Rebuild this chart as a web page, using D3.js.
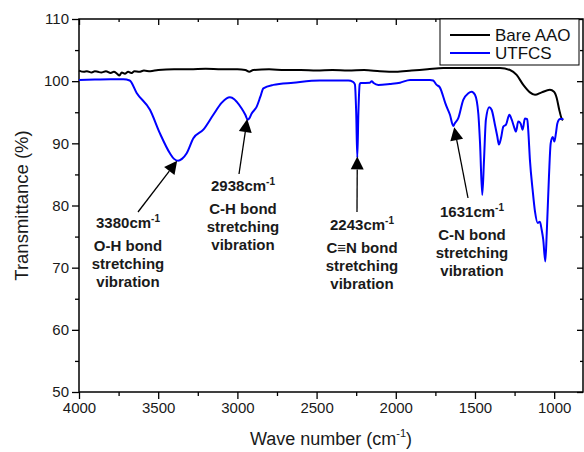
<!DOCTYPE html>
<html>
<head>
<meta charset="utf-8">
<script src="https://cdn.jsdelivr.net/npm/d3@7"></script>
<style>
  body { margin: 0; background: #fff; }
  svg, svg text { font-family: Arial, "Liberation Sans", sans-serif; }
</style>
</head>
<body>
<div id="chart"></div>
<script>
// wavenumber (cm-1) and transmittance (%)
const bareWn = [4000, 3970, 3950, 3920, 3900, 3880, 3860, 3830, 3800, 3780, 3760, 3745, 3730, 3710, 3690, 3670, 3650, 3620, 3590, 3550, 3500,
  3400, 3300, 3200, 3100, 3000, 2950, 2925, 2900, 2800, 2700, 2600, 2500, 2400, 2300, 2200, 2100, 2000, 1900, 1800, 1700,
  1600, 1500, 1400, 1342, 1279, 1237, 1195, 1153, 1121, 1079, 1027, 1001, 984, 968, 953, 945];
const bareT = [101.7, 101.5, 101.6, 101.4, 101.6, 101.5, 101.4, 101.6, 101.3, 101.5, 101.2, 100.9, 101.4, 101.2, 101.5, 101.3, 101.6, 101.5, 101.7, 101.6, 101.8,
  101.9, 101.9, 102.0, 101.9, 101.9, 101.8, 101.5, 101.8, 101.9, 101.8, 101.8, 101.7, 101.8, 101.7, 101.8, 101.6, 101.5, 101.7, 101.9, 102.1,
  102.1, 102.1, 102.1, 102.1, 101.8, 101.0, 99.4, 98.2, 97.8, 98.2, 98.6, 98.3, 97.3, 95.4, 94.0, 93.7];

const utfcsWn = [4000, 3900, 3800, 3720, 3680, 3636, 3552, 3489, 3426, 3400, 3375, 3350, 3320, 3278, 3215, 3152, 3100, 3068, 3047,
  3020, 3005, 2973, 2950, 2935, 2925, 2910, 2878, 2855, 2836, 2773, 2647, 2479, 2300, 2270, 2258, 2250, 2243, 2236, 2228, 2222,
  2163, 2152, 2140, 2110, 2037, 1973, 1910, 1784, 1764, 1742, 1722, 1689, 1679, 1658, 1637, 1628, 1606, 1574, 1542, 1521, 1500,
  1479, 1468, 1454, 1443, 1431, 1410, 1395, 1374, 1359, 1349, 1336, 1321, 1304, 1283, 1268, 1254, 1241, 1227, 1212, 1199, 1185,
  1170, 1164, 1153, 1136, 1121, 1104, 1090, 1079, 1069, 1056, 1047, 1033, 1022, 1009, 999, 989, 980, 963, 942];
const utfcsT = [100.2, 100.25, 100.3, 100.3, 100.1, 98.1, 95.4, 91.6, 88.4, 87.5, 87.2, 87.5, 88.4, 90.8, 92.2, 94.6, 96.5, 97.25, 97.4,
  97.1, 96.7, 95.6, 94.6, 93.8, 94.0, 94.8, 95.9, 97.5, 98.85, 99.4, 99.75, 100.1, 100.1, 99.9, 99.5, 95.0, 87.7, 95.0, 99.5, 99.7,
  99.75, 100.0, 99.7, 99.4, 99.55, 99.75, 100.2, 100.2, 100.1, 99.4, 99.0, 96.6, 95.9, 94.6, 92.8, 93.2, 94.0, 97.0, 98.05, 98.3, 97.8,
  94.8, 90.0, 81.7, 87.3, 93.8, 95.8, 95.4, 93.0, 91.1, 89.8, 90.8, 92.7, 93.0, 94.6, 93.8, 92.7, 91.9, 93.5, 93.2, 92.2, 94.0,
  93.9, 92.2, 87.3, 82.5, 79.0, 77.2, 77.4, 76.1, 74.5, 71.0, 75.5, 84.6, 90.0, 91.0, 90.3, 91.6, 93.2, 93.9, 93.9];

const xTicks = [4000, 3500, 3000, 2500, 2000, 1500, 1000];
const xMinor = [3750, 3250, 2750, 2250, 1750, 1250];
const yTicks = [50, 60, 70, 80, 90, 100, 110];
const yMinor = [55, 65, 75, 85, 95, 105];

const seriesNames = ['Bare AAO', 'UTFCS'];
const seriesColors = ['#000000', '#0000ff'];

// peak labels: wavenumber, transmittance at the peak, bond name
const peakWn = [3380, 2938, 2243, 1631];
const peakT = [87.2, 93.9, 87.9, 92.6];
const peakBond = ['O-H bond', 'C-H bond', 'C\u2261N bond', 'C-N bond'];

const width = 584, height = 452;
const margin = {top: 19, right: 1, bottom: 60, left: 79};

const svg = d3.select('#chart').append('svg')
  .attr('width', width).attr('height', height);

const x = d3.scaleLinear().domain([4000, 818]).range([margin.left, width - margin.right]);
const y = d3.scaleLinear().domain([50, 110]).range([height - margin.bottom, margin.top]);
const x0 = margin.left, x1 = width - margin.right, y0 = height - margin.bottom, y1 = margin.top;

// axes: labelled ticks out on bottom/left, mirrored ticks in on top/right
svg.append('g').attr('transform', `translate(0,${y0})`)
  .call(d3.axisBottom(x).tickValues(xTicks).tickSize(7).tickPadding(3).tickFormat(d3.format('d')));
svg.append('g').attr('transform', `translate(0,${y0})`)
  .call(d3.axisBottom(x).tickValues(xMinor).tickSize(4).tickFormat(''));
svg.append('g').attr('transform', `translate(${x0},0)`)
  .call(d3.axisLeft(y).tickValues(yTicks).tickSize(7).tickPadding(3));
svg.append('g').attr('transform', `translate(${x0},0)`)
  .call(d3.axisLeft(y).tickValues(yMinor).tickSize(4).tickFormat(''));
svg.append('g').attr('transform', `translate(0,${y1})`)
  .call(d3.axisBottom(x).tickValues(xTicks).tickSize(6).tickFormat(''));
svg.append('g').attr('transform', `translate(0,${y1})`)
  .call(d3.axisBottom(x).tickValues(xMinor).tickSize(3).tickFormat(''));
svg.append('g').attr('transform', `translate(${x1},0)`)
  .call(d3.axisRight(y).tickValues(yTicks).tickSize(-6).tickFormat(''));
svg.append('g').attr('transform', `translate(${x1},0)`)
  .call(d3.axisRight(y).tickValues(yMinor).tickSize(-3).tickFormat(''));
svg.selectAll('.domain').remove();
svg.selectAll('g').attr('font-family', null);
svg.selectAll('.tick line').attr('stroke', '#000').attr('stroke-width', 1.3);
svg.selectAll('.tick text').attr('font-size', 15).attr('fill', '#1a1a1a');

svg.append('rect').attr('x', x0).attr('y', y1).attr('width', x1 - x0).attr('height', y0 - y1)
  .attr('fill', 'none').attr('stroke', '#000').attr('stroke-width', 1.5);

// curves
const line = d3.line().x(d => x(d[0])).y(d => y(d[1])).curve(d3.curveMonotoneX);
const bare = bareWn.map((w, i) => [w, bareT[i]]);
const utfcs = utfcsWn.map((w, i) => [w, utfcsT[i]]);
svg.append('path').datum(bare).attr('d', line).attr('fill', 'none')
  .attr('stroke', seriesColors[0]).attr('stroke-width', 2).attr('stroke-linejoin', 'round');
svg.append('path').datum(utfcs).attr('d', line).attr('fill', 'none')
  .attr('stroke', seriesColors[1]).attr('stroke-width', 2).attr('stroke-linejoin', 'round');

// axis titles
const xt = svg.append('text').attr('x', (x0 + x1) / 2).attr('y', 445)
  .attr('text-anchor', 'middle').attr('font-size', 18).attr('fill', '#1a1a1a');
xt.append('tspan').text('Wave number (cm');
xt.append('tspan').attr('font-size', 11).attr('dy', -8).text('-1');
xt.append('tspan').attr('dy', 8).text(')');
svg.append('text').attr('transform', `translate(28,${(y0 + y1) / 2}) rotate(-90)`)
  .attr('text-anchor', 'middle').attr('font-size', 18.5).attr('fill', '#1a1a1a')
  .text('Transmittance (%)');

// legend
const lg = svg.append('g');
lg.append('rect').attr('x', 440).attr('y', 19).attr('width', 139).attr('height', 46)
  .attr('fill', '#fff').attr('stroke', '#000').attr('stroke-width', 1);
seriesNames.forEach((name, i) => {
  const ly = 35 + i * 18;
  lg.append('line').attr('x1', 450).attr('x2', 490).attr('y1', ly).attr('y2', ly)
    .attr('stroke', seriesColors[i]).attr('stroke-width', 2);
  lg.append('text').attr('x', 495).attr('y', ly + 6).attr('font-size', 17).attr('fill', '#111').text(name);
});

// peak annotations (text block centre, first baseline, arrow tail)
const annLayout = [
  {cx: 128, by: 228, tail: [138, 212]},
  {cx: 243, by: 191, tail: [239, 174]},
  {cx: 362, by: 230, tail: [357, 212]},
  {cx: 472, by: 217, tail: [468, 198]}
];
const gaps = [0, 23, 41, 59];
annLayout.forEach((a, i) => {
  const tip = [x(peakWn[i]), y(peakT[i])];
  const dx = tip[0] - a.tail[0], dy = tip[1] - a.tail[1];
  const len = Math.hypot(dx, dy), ux = dx / len, uy = dy / len;
  const hl = 13, hw = 6.5;
  const base = [tip[0] - ux * hl, tip[1] - uy * hl];
  svg.append('line').attr('x1', a.tail[0]).attr('y1', a.tail[1]).attr('x2', base[0]).attr('y2', base[1])
    .attr('stroke', '#000').attr('stroke-width', 1.3);
  svg.append('path').attr('fill', '#000')
    .attr('d', `M${tip[0]},${tip[1]}L${base[0] - uy * hw},${base[1] + ux * hw}L${base[0] + uy * hw},${base[1] - ux * hw}Z`);
  const lines = [null, peakBond[i], 'stretching', 'vibration'];
  lines.forEach((t, j) => {
    const tx = svg.append('text').attr('x', a.cx).attr('y', a.by + gaps[j])
      .attr('text-anchor', 'middle').attr('font-size', 15).attr('font-weight', 'bold').attr('fill', '#1a1a1a');
    if (j === 0) {
      tx.append('tspan').text(peakWn[i] + 'cm');
      tx.append('tspan').attr('font-size', 10).attr('dy', -6).text('-1');
    } else {
      tx.text(t);
    }
  });
});
</script>
</body>
</html>
